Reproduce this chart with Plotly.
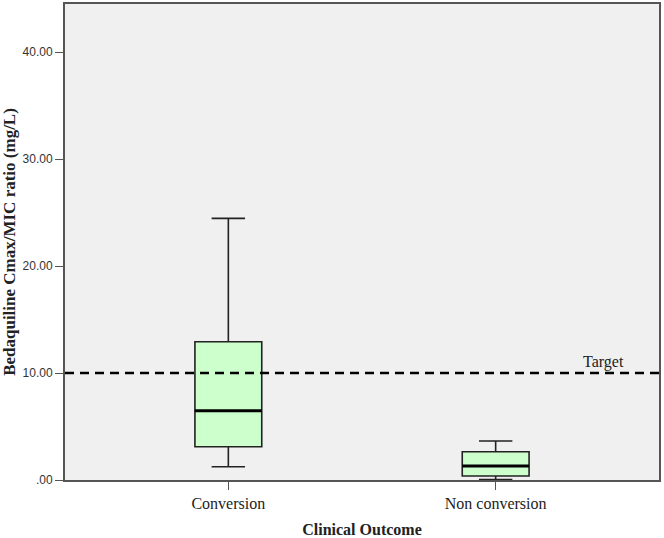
import plotly.graph_objects as go

categories = ["Conversion", "Non conversion"]
q1 = [3.11, 0.37]
median = [6.48, 1.31]
q3 = [12.93, 2.64]
lower_whisker = [1.24, 0.05]
upper_whisker = [24.46, 3.64]
target = 10.0
ytick_vals = [0, 10, 20, 30, 40]
ytick_text = [".00", "10.00", "20.00", "30.00", "40.00"]

xpos = list(range(len(categories)))
box_w = 0.25
serif = "Liberation Serif, Times New Roman, serif"
sans = "Liberation Sans, Arial, sans-serif"

fig = go.Figure()
for i, c in enumerate(categories):
    fig.add_trace(go.Box(
        x=[xpos[i]], q1=[q1[i]], median=[median[i]], q3=[q3[i]],
        lowerfence=[lower_whisker[i]], upperfence=[upper_whisker[i]],
        width=box_w, whiskerwidth=0.5,
        fillcolor="#ccffcc", line=dict(color="#222222", width=1.6),
        boxpoints=False, showlegend=False, name=c, hoverinfo="skip"))
    fig.add_shape(type="line", x0=xpos[i] - box_w / 2, x1=xpos[i] + box_w / 2,
                  y0=median[i], y1=median[i], xref="x", yref="y",
                  line=dict(color="black", width=3))

fig.add_shape(type="line", xref="paper", x0=0, x1=1, yref="y", y0=target, y1=target,
              line=dict(color="black", width=2.5, dash="9px,6px"))
fig.add_annotation(xref="paper", x=0.906, xanchor="center", yref="y", y=target, text="Target",
                   showarrow=False, yanchor="bottom", yshift=0,
                   font=dict(family=serif, size=16, color="#222"))

fig.update_layout(
    width=664, height=538,
    margin=dict(l=65, r=5, t=4, b=58),
    paper_bgcolor="white", plot_bgcolor="#f0f0f0",
    xaxis=dict(range=[-0.611, 1.611], tickvals=xpos, ticktext=categories,
               ticks="outside", ticklen=8, tickcolor="#555", showgrid=False,
               zeroline=False, showline=True, linecolor="#555", linewidth=2, mirror=True,
               automargin=False,
               tickfont=dict(family=serif, size=16, color="#222"),
               title=dict(text="<b>Clinical Outcome</b>", standoff=14,
                          font=dict(family=serif, size=16, color="#222"))),
    yaxis=dict(range=[0, 44.5], tickvals=ytick_vals, ticktext=ytick_text,
               ticks="outside", ticklen=8, tickcolor="#555", showgrid=False,
               zeroline=False, showline=True, linecolor="#555", linewidth=2, mirror=True,
               tickfont=dict(family=sans, size=12, color="#333"),
               title=dict(text="<b>Bedaquiline Cmax/MIC ratio (mg/L)</b>", standoff=4,
                          font=dict(family=serif, size=17, color="#222"))),
)
fig.write_html("out.html")
